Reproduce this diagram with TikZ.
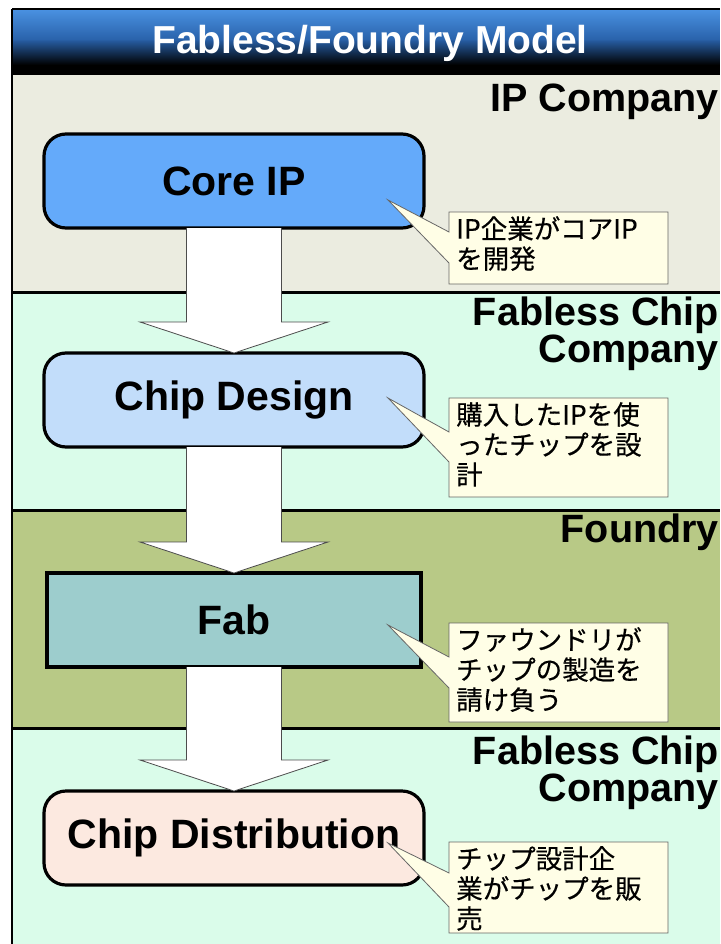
\documentclass[tikz,border=0pt]{standalone}
\usepackage{fontspec}
\setmainfont{Liberation Sans}
\newfontfamily\jpfont[FakeBold=0.4]{Noto Sans CJK JP}
\usetikzlibrary{calc}

\definecolor{bandA}{RGB}{235,236,224}
\definecolor{bandB}{RGB}{218,252,234}
\definecolor{bandC}{RGB}{184,201,134}
\definecolor{coreblue}{RGB}{100,170,250}
\definecolor{designblue}{RGB}{194,221,250}
\definecolor{fabteal}{RGB}{157,205,205}
\definecolor{distpink}{RGB}{252,233,224}
\definecolor{notefill}{RGB}{255,254,230}
\definecolor{titletop}{RGB}{74,146,226}
\definecolor{titlemid}{RGB}{40,96,168}

% block arrow from the bottom of one stage to the top of the next
\newcommand\flowarrow[2]{%
  \filldraw[flowarrowstyle]
    ($(#1.south)+(-47.5,0)$) -- ($(#2.north)+(-47.5,-31)$) --
    ($(#2.north)+(-94,-31)$) -- (#2.north) -- ($(#2.north)+(94,-31)$) --
    ($(#2.north)+(47.5,-31)$) -- ($(#1.south)+(47.5,0)$);}

% speech-bubble outline: top, bottom, wedge base (upper, lower), tip y
\newcommand\notebubble[5]{%
  \filldraw[notestyle] (449,#1) -- (668,#1) -- (668,#2) -- (449,#2) --
    (449,#4) -- (388,#5) -- (449,#3) -- cycle;}

\begin{document}
\begin{tikzpicture}[x=1pt,y=-1pt,
  stagebox/.style={draw=black, line width=3.2pt, minimum width=380pt,
    minimum height=94pt, inner sep=0pt, outer sep=0pt,
    font=\bfseries\fontsize{41}{41}\selectfont},
  bandlabel/.style={font=\bfseries\fontsize{39.5}{32}\selectfont, align=right,
    inner sep=0pt, anchor=base east},
  flowarrowstyle/.style={fill=white, draw=black!70, line width=0.8pt,
    line join=miter},
  notestyle/.style={fill=notefill, draw=black!60, line width=0.8pt},
  notetext/.style={font=\jpfont\fontsize{26.5}{30}\selectfont, align=left,
    inner sep=0pt, anchor=north west},
  sepline/.style={line width=3pt, black}]

\useasboundingbox (0,0) rectangle (720,944);
\fill[white] (0,0) rectangle (720,944);

% company bands
\fill[bandA] (12,74) rectangle (720,292);
\fill[bandB] (12,292) rectangle (720,510);
\fill[bandC] (12,510) rectangle (720,728);
\fill[bandB] (12,728) rectangle (720,944);

% title bar: blue at the top fading through dark blue to black
\foreach \i in {0,...,64}{%
  \pgfmathsetmacro\pa{min(100,\i/32*100)}%
  \pgfmathsetmacro\pc{100-max(0,min(100,(\i-30)/26*100))}%
  \fill[titlemid!\pa!titletop!\pc!black] (12,9+\i) rectangle (720,10.2+\i);
}
\node[font=\bfseries\fontsize{39}{39}\selectfont, text=white, anchor=base,
  inner sep=0pt] (title) at (370,54) {Fabless/Foundry Model};

% band separators and frame
\draw[sepline] (12,74) -- (720,74);
\draw[sepline] (12,292) -- (720,292);
\draw[sepline] (12,510) -- (720,510);
\draw[sepline] (12,728) -- (720,728);
\draw[line width=2.5pt] (12,9) -- (12,944);
\draw[line width=2pt] (12,9) -- (720,9);

% band labels (base anchor sits on the last line)
\node[bandlabel] (ipco) at (719,112) {IP Company};
\node[bandlabel] (fabless1) at (719,362) {Fabless Chip\\Company\hspace{7pt}};
\node[bandlabel] (foundry) at (719,542) {Foundry};
\node[bandlabel] (fabless2) at (719,801) {Fabless Chip\\Company\hspace{7pt}};

% stages
\node[stagebox, rounded corners=22pt, fill=coreblue] (core) at (234,181) {Core IP};
\node[stagebox, rounded corners=22pt, fill=designblue] (design) at (234,400) {Chip Design};
\node[stagebox, fill=fabteal, minimum width=374pt] (fab) at (234,620) {Fab};
\node[stagebox, rounded corners=22pt, fill=distpink] (dist) at (234,838) {Chip Distribution};

% flow arrows
\flowarrow{core}{design}
\flowarrow{design}{fab}
\flowarrow{fab}{dist}

% explanatory notes
\notebubble{212}{284}{232}{263}{200}
\node[notetext] (note1) at (456,216) {IP企業がコアIP\\を開発};
\notebubble{398}{497}{432}{462}{398}
\node[notetext] (note2) at (456,402) {購入したIPを使\\ったチップを設\\計};
\notebubble{623}{722}{657}{688}{625}
\node[notetext] (note3) at (456,627) {ファウンドリが\\チップの製造を\\請け負う};
\notebubble{842}{933}{873}{907}{843}
\node[notetext] (note4) at (456,846) {チップ設計企\\業がチップを販\\売};

\end{tikzpicture}
\end{document}
